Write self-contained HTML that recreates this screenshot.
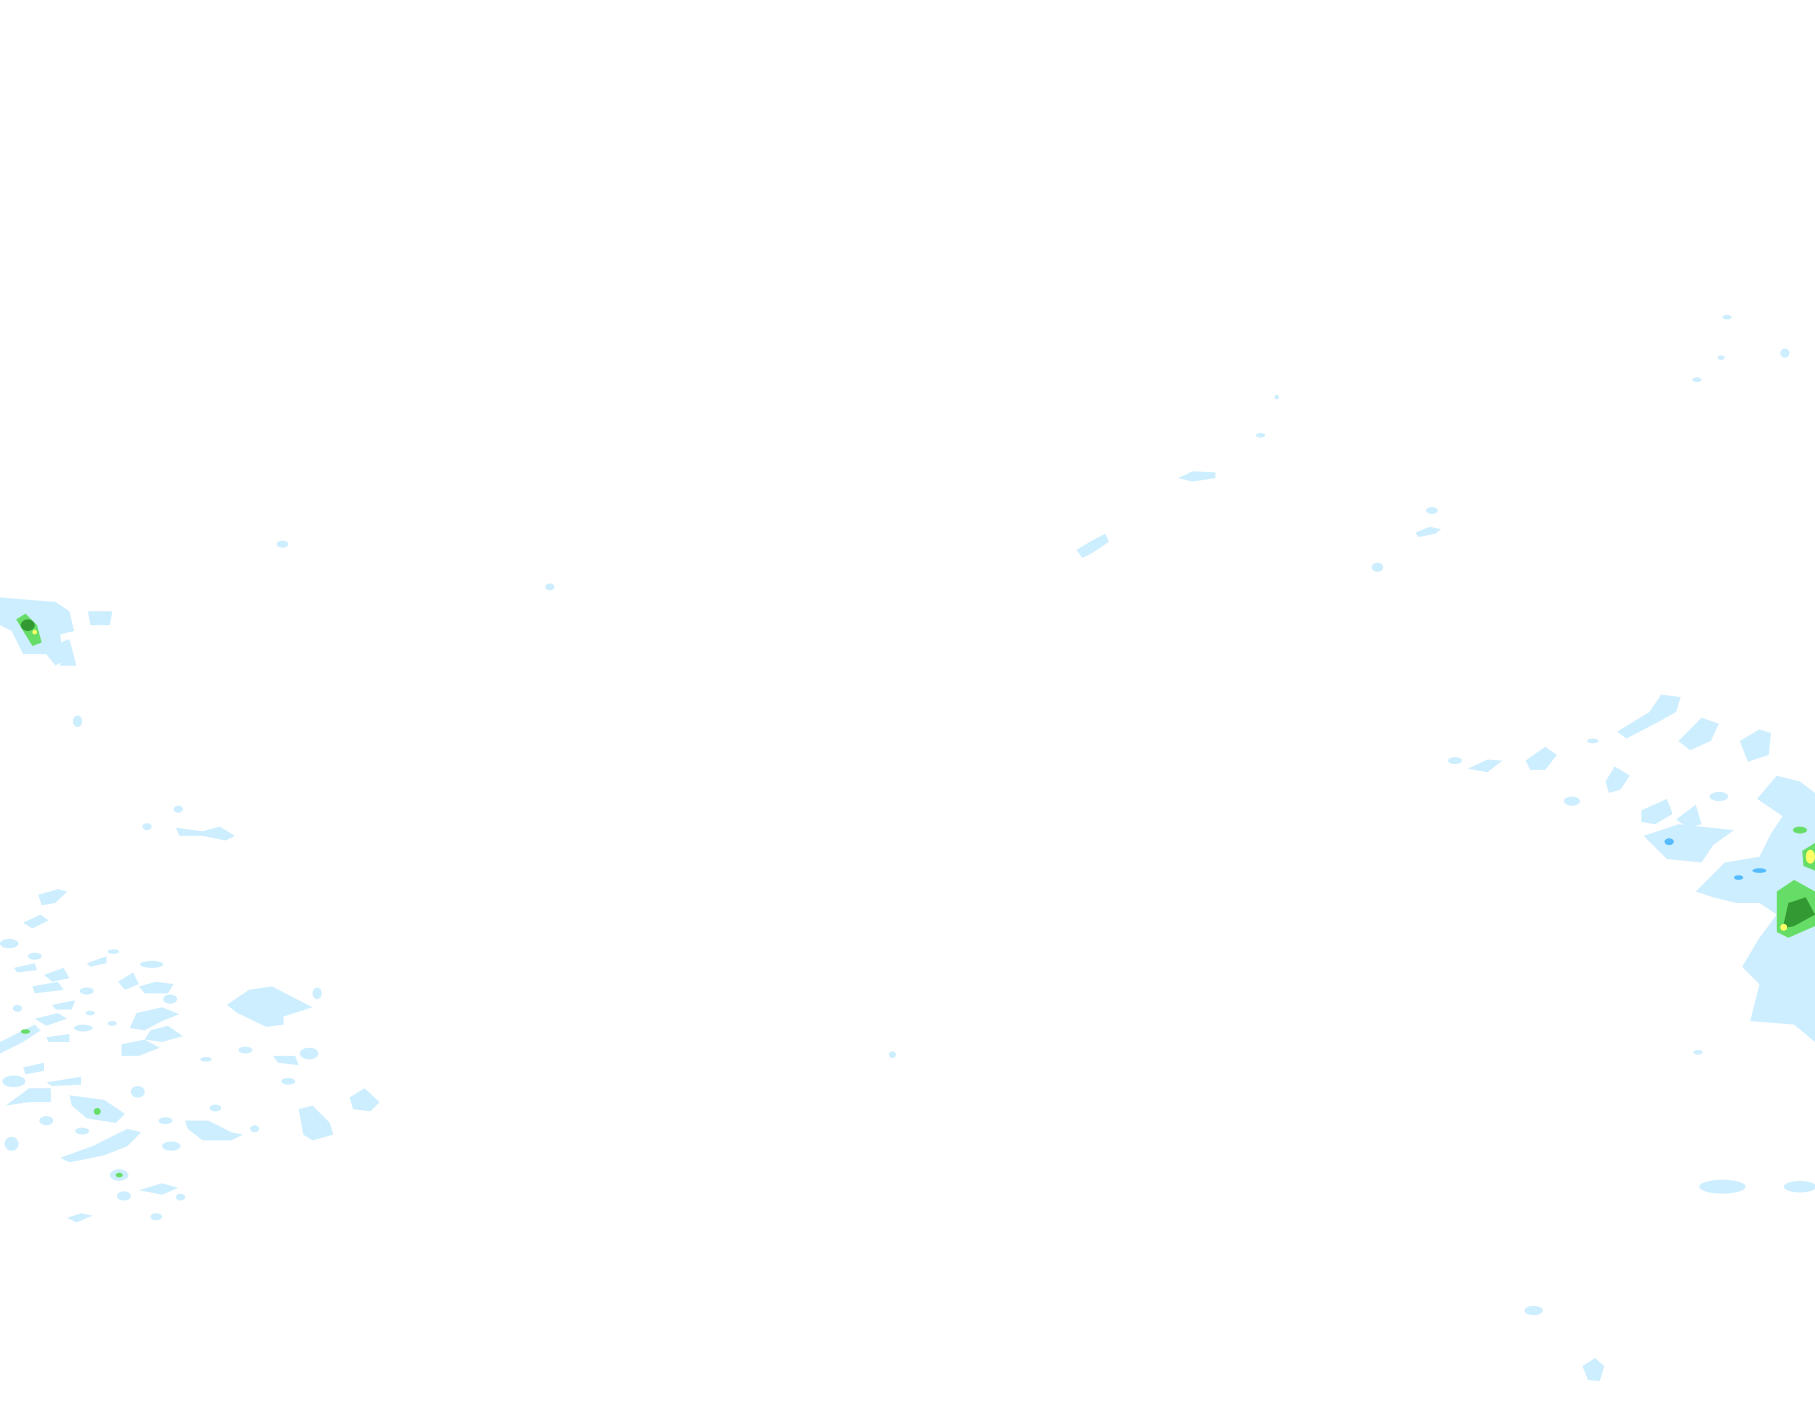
<!DOCTYPE html>
<html><head><meta charset="utf-8"><style>
html,body{margin:0;padding:0;background:#fff;}
svg{display:block;}
</style></head><body>
<svg width="1815" height="1424" viewBox="0 0 1568 1230" preserveAspectRatio="none" xmlns="http://www.w3.org/2000/svg">
<g fill="#cdeeff">
<ellipse cx="1492" cy="274" rx="4" ry="2"/>
<ellipse cx="1487" cy="309" rx="3" ry="2"/>
<ellipse cx="1542" cy="305" rx="4" ry="4"/>
<ellipse cx="1466" cy="328" rx="4" ry="2"/>
<ellipse cx="1103" cy="343" rx="2" ry="2"/>
<ellipse cx="1089" cy="376" rx="4" ry="2"/>
<path d="M1018 413 L1030 407 L1050 408 L1050 413 L1030 416 Z"/>
<ellipse cx="1237" cy="441" rx="5" ry="3"/>
<path d="M1223 460 L1235 455 L1245 457 L1240 461 L1225 464 Z"/>
<path d="M930 475 L945 466 L955 461 L958 468 L943 478 L935 482 Z"/>
<ellipse cx="1190" cy="490" rx="5" ry="4"/>
<ellipse cx="244" cy="470" rx="5" ry="3"/>
<ellipse cx="475" cy="507" rx="4" ry="3"/>
<path d="M0 516 L48 520 L60 528 L64 545 L52 548 L55 570 L48 575 L40 565 L20 565 L10 545 L0 540 Z"/>
<path d="M76 528 L97 528 L95 540 L78 540 Z"/>
<path d="M52 555 L60 552 L66 575 L52 575 Z"/>
<ellipse cx="67" cy="623" rx="4" ry="5"/>
<ellipse cx="154" cy="699" rx="4" ry="3"/>
<ellipse cx="127" cy="714" rx="4" ry="3"/>
<path d="M152 715 L175 718 L190 714 L203 722 L195 726 L175 722 L155 722 Z"/>
<path d="M33 773 L50 768 L58 770 L48 780 L36 782 Z"/>
<path d="M20 797 L35 790 L42 795 L28 802 Z"/>
<ellipse cx="8" cy="815" rx="8" ry="4"/>
<!-- left lower scattered blobs -->
<ellipse cx="30" cy="826" rx="6" ry="3"/>
<ellipse cx="98" cy="822" rx="5" ry="2"/>
<path d="M75 832 L92 826 L92 832 L78 835 Z"/>
<ellipse cx="131" cy="833" rx="10" ry="3"/>
<path d="M12 836 L30 832 L32 838 L15 840 Z"/>
<path d="M38 842 L55 836 L60 845 L45 848 Z"/>
<path d="M28 852 L50 848 L55 855 L30 858 Z"/>
<ellipse cx="75" cy="856" rx="6" ry="3"/>
<path d="M102 848 L115 840 L120 850 L108 855 Z"/>
<path d="M120 852 L135 848 L150 850 L145 858 L125 858 Z"/>
<ellipse cx="147" cy="863" rx="6" ry="4"/>
<ellipse cx="15" cy="871" rx="4" ry="3"/>
<path d="M45 868 L65 864 L62 872 L48 872 Z"/>
<ellipse cx="78" cy="875" rx="4" ry="2"/>
<path d="M30 880 L50 875 L58 880 L40 886 Z"/>
<path d="M118 875 L140 870 L155 876 L140 882 L125 890 L112 888 Z"/>
<ellipse cx="72" cy="888" rx="8" ry="3"/>
<ellipse cx="97" cy="884" rx="4" ry="2"/>
<path d="M130 890 L145 886 L158 895 L140 900 L125 898 Z"/>
<path d="M40 896 L60 893 L60 900 L42 900 Z"/>
<path d="M105 902 L125 898 L138 905 L120 912 L105 912 Z"/>
<path d="M0 900 L30 885 L35 890 L20 900 L0 910 Z"/>
<path d="M196 868 L215 855 L235 852 L260 865 L270 870 L245 878 L245 885 L230 887 L205 875 Z"/>
<ellipse cx="274" cy="858" rx="4" ry="5"/>
<ellipse cx="212" cy="907" rx="6" ry="3"/>
<path d="M236 912 L255 912 L258 920 L240 918 Z"/>
<ellipse cx="267" cy="910" rx="8" ry="5"/>
<ellipse cx="178" cy="915" rx="5" ry="2"/>
<ellipse cx="249" cy="934" rx="6" ry="3"/>
<path d="M20 922 L38 918 L38 925 L22 928 Z"/>
<ellipse cx="12" cy="934" rx="10" ry="5"/>
<path d="M5 955 L25 940 L44 940 L44 952 L25 952 Z"/>
<path d="M40 935 L70 930 L70 937 L45 938 Z"/>
<path d="M60 946 L90 950 L108 962 L100 970 L75 966 L62 955 Z"/>
<ellipse cx="119" cy="943" rx="6" ry="5"/>
<path d="M302 948 L315 940 L328 952 L320 960 L305 958 Z"/>
<path d="M258 958 L270 955 L285 970 L288 980 L270 985 L262 980 Z"/>
<path d="M52 1000 L80 990 L110 975 L122 978 L110 990 L90 998 L60 1004 Z"/>
<ellipse cx="40" cy="968" rx="6" ry="4"/>
<ellipse cx="71" cy="977" rx="6" ry="3"/>
<ellipse cx="143" cy="968" rx="6" ry="3"/>
<path d="M160 968 L180 968 L200 978 L210 980 L200 985 L175 985 L162 975 Z"/>
<ellipse cx="186" cy="957" rx="5" ry="3"/>
<ellipse cx="220" cy="975" rx="4" ry="3"/>
<ellipse cx="10" cy="988" rx="6" ry="6"/>
<ellipse cx="148" cy="990" rx="8" ry="4"/>
<ellipse cx="103" cy="1015" rx="8" ry="5"/>
<path d="M120 1028 L140 1022 L154 1026 L140 1032 Z"/>
<ellipse cx="107" cy="1033" rx="6" ry="4"/>
<ellipse cx="156" cy="1034" rx="4" ry="3"/>
<path d="M58 1052 L70 1048 L80 1050 L66 1056 Z"/>
<ellipse cx="135" cy="1051" rx="5" ry="3"/>
<ellipse cx="771" cy="911" rx="3" ry="3"/>
<path d="M1397 632 L1425 615 L1435 600 L1452 602 L1448 615 L1430 625 L1405 638 Z"/>
<path d="M1450 640 L1470 620 L1485 625 L1478 640 L1460 648 Z"/>
<path d="M1503 640 L1520 630 L1530 633 L1528 652 L1510 658 Z"/>
<ellipse cx="1257" cy="657" rx="6" ry="3"/>
<path d="M1268 664 L1285 656 L1298 657 L1285 667 Z"/>
<path d="M1318 657 L1335 645 L1345 652 L1335 665 L1322 665 Z"/>
<path d="M1387 675 L1395 662 L1408 670 L1400 682 L1390 685 Z"/>
<ellipse cx="1358" cy="692" rx="7" ry="4"/>
<ellipse cx="1485" cy="688" rx="8" ry="4"/>
<path d="M1418 700 L1440 690 L1445 703 L1430 712 L1418 710 Z"/>
<path d="M1448 708 L1465 695 L1470 712 L1458 715 Z"/>
<path d="M1420 722 L1450 712 L1498 717 L1480 730 L1470 745 L1440 742 Z"/>
<path d="M1518 690 L1535 670 L1555 675 L1568 685 L1568 900 L1550 885 L1512 882 L1520 850 L1505 835 L1520 810 L1535 790 L1520 780 L1500 780 L1480 775 L1465 770 L1490 745 L1520 740 L1530 720 L1540 705 Z"/>
<ellipse cx="1376" cy="640" rx="5" ry="2"/>
<ellipse cx="1488" cy="1025" rx="20" ry="6"/>
<ellipse cx="1555" cy="1025" rx="14" ry="5"/>
<ellipse cx="1467" cy="909" rx="4" ry="2"/>
<ellipse cx="1325" cy="1132" rx="8" ry="4"/>
<path d="M1367 1180 L1378 1173 L1386 1180 L1382 1193 L1372 1192 Z"/>
</g>
<g>
<path d="M14 535 L22 530 L32 540 L36 555 L28 558 L20 545 Z" fill="#66dd66"/>
<ellipse cx="24" cy="540" rx="6" ry="5" fill="#339933"/>
<ellipse cx="30" cy="546" rx="2" ry="2" fill="#ffff66"/>
<ellipse cx="1555" cy="717" rx="6" ry="3" fill="#66dd66"/>
<path d="M1557 735 L1568 728 L1568 752 L1558 748 Z" fill="#66dd66"/>
<ellipse cx="1564" cy="740" rx="4" ry="6" fill="#ffff66"/>
<path d="M1535 770 L1550 760 L1568 770 L1568 800 L1545 810 L1535 805 Z" fill="#66dd66"/>
<path d="M1545 780 L1560 775 L1568 790 L1550 800 L1540 802 Z" fill="#339933"/>
<ellipse cx="1541" cy="801" rx="3" ry="3" fill="#ffff66"/>
<ellipse cx="1520" cy="752" rx="6" ry="2" fill="#55bbff"/>
<ellipse cx="1502" cy="758" rx="4" ry="2" fill="#55bbff"/>
<ellipse cx="1442" cy="727" rx="4" ry="3" fill="#55bbff"/>
<ellipse cx="84" cy="960" rx="3" ry="3" fill="#66dd66"/>
<ellipse cx="22" cy="891" rx="4" ry="2" fill="#66dd66"/>
<ellipse cx="103" cy="1015" rx="3" ry="2" fill="#66dd66"/>
</g>
</svg>
</body></html>
